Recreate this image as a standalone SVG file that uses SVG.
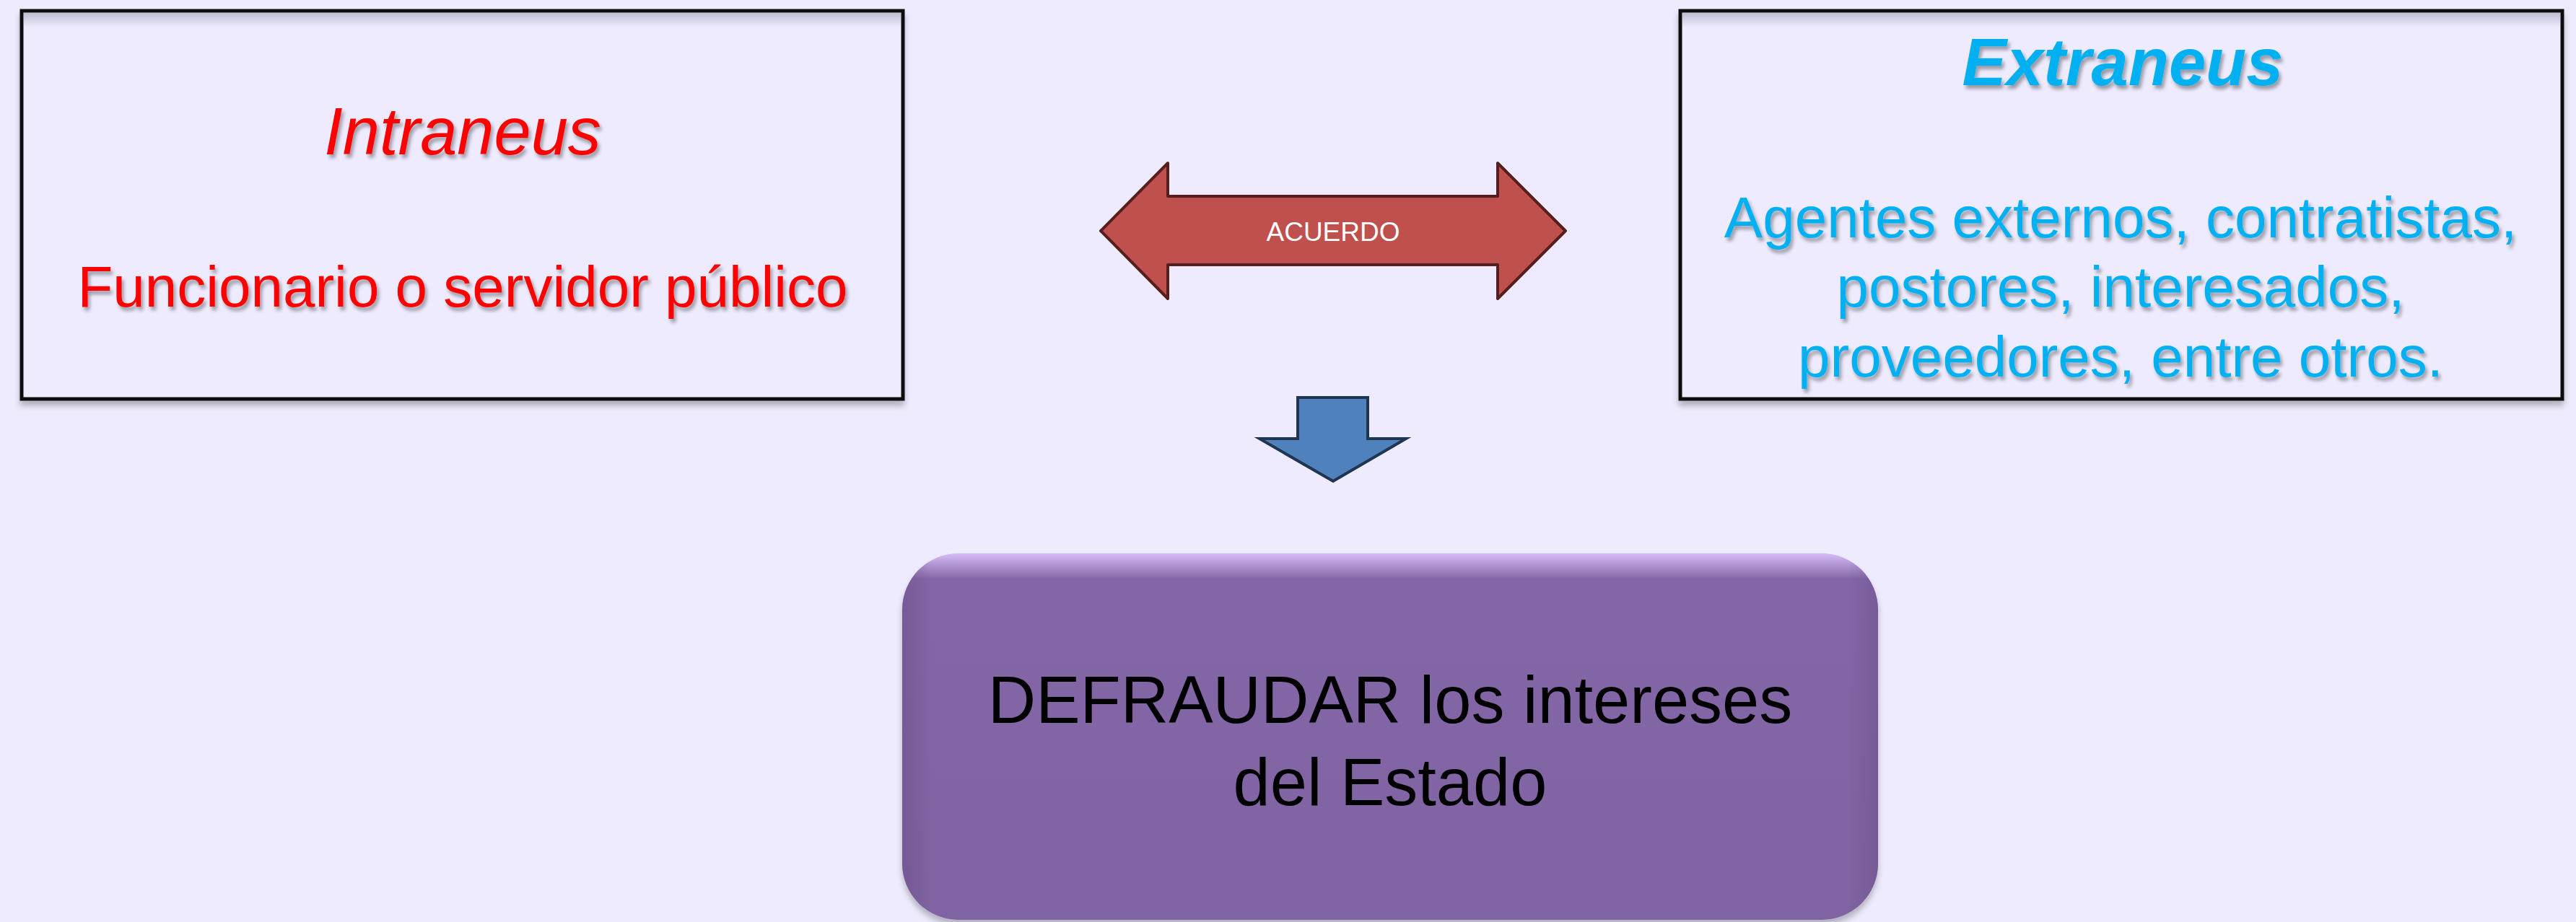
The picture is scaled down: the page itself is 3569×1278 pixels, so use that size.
<svg xmlns="http://www.w3.org/2000/svg" width="3569" height="1278" viewBox="0 0 3569 1278">
  <defs>
    <style>
      .box { fill: #EDEBFD; stroke: #111111; stroke-width: 5; }
      .t { font-family: "Liberation Sans", Arial, sans-serif; text-anchor: middle; }
      .red { fill: #FF0000; }
      .cyan { fill: #00B0F0; }
    </style>
    <filter id="tshadow" x="-10%" y="-30%" width="120%" height="160%">
      <feGaussianBlur in="SourceAlpha" stdDeviation="2.5" result="b"/>
      <feOffset in="b" dx="3" dy="5" result="o"/>
      <feComponentTransfer in="o" result="s"><feFuncA type="linear" slope="0.35"/></feComponentTransfer>
      <feMerge><feMergeNode in="s"/><feMergeNode in="SourceGraphic"/></feMerge>
    </filter>
    <filter id="bshadow" x="-5%" y="-5%" width="110%" height="115%">
      <feGaussianBlur in="SourceAlpha" stdDeviation="4" result="b"/>
      <feOffset in="b" dx="0" dy="7" result="o"/>
      <feComponentTransfer in="o" result="s"><feFuncA type="linear" slope="0.25"/></feComponentTransfer>
      <feMerge><feMergeNode in="s"/><feMergeNode in="SourceGraphic"/></feMerge>
    </filter>
    <linearGradient id="topshade" x1="0" y1="0" x2="0" y2="1">
      <stop offset="0" stop-color="#9a98b0" stop-opacity="0.55"/>
      <stop offset="1" stop-color="#9a98b0" stop-opacity="0"/>
    </linearGradient>
    <linearGradient id="purple" x1="0" y1="0" x2="0" y2="1">
      <stop offset="0" stop-color="#D6BCF8"/>
      <stop offset="0.07" stop-color="#8466A6"/>
      <stop offset="1" stop-color="#8064A2"/>
    </linearGradient>
    <linearGradient id="purpleSide" x1="0" y1="0" x2="1" y2="0">
      <stop offset="0" stop-color="#5a4378" stop-opacity="0.35"/>
      <stop offset="0.03" stop-color="#5a4378" stop-opacity="0"/>
      <stop offset="0.97" stop-color="#5a4378" stop-opacity="0"/>
      <stop offset="1" stop-color="#5a4378" stop-opacity="0.3"/>
    </linearGradient>
  </defs>

  <rect width="3569" height="1278" fill="#EDEBFD"/>

  <g id="connectors">
    <g id="acuerdo">
      <polygon points="1525,320 1618,226 1618,272 2075,272 2075,226 2169,320 2075,414 2075,367 1618,367 1618,414" fill="#C0504D" stroke="#561E1E" stroke-width="4" stroke-linejoin="round"/>
      <text class="t" x="1847" y="334" font-size="37" fill="#FFFFFF">ACUERDO</text>
    </g>
    <polygon id="down-arrow" points="1798,551 1895,551 1895,608 1948,608 1847,667 1745,608 1798,608" fill="#4F81BD" stroke="#1F3551" stroke-width="4" stroke-linejoin="miter"/>
  </g>

  <g id="intraneus" filter="url(#bshadow)">
    <rect class="box" x="30" y="15" width="1221" height="538"/>
    <rect x="33" y="18" width="1215" height="20" fill="url(#topshade)"/>
    <g filter="url(#tshadow)">
      <text class="t red" x="641" y="214" font-size="92" font-style="italic">Intraneus</text>
      <text class="t red" x="641" y="425" font-size="80">Funcionario o servidor público</text>
    </g>
  </g>

  <g id="extraneus" filter="url(#bshadow)">
    <rect class="box" x="2328" y="15" width="1222" height="538"/>
    <rect x="2331" y="18" width="1216" height="20" fill="url(#topshade)"/>
    <g filter="url(#tshadow)">
      <text class="t cyan" x="2941" y="118" font-size="92" font-style="italic" font-weight="bold">Extraneus</text>
      <text class="t cyan" x="2938" y="329" font-size="80">Agentes externos, contratistas,</text>
      <text class="t cyan" x="2938" y="425" font-size="80">postores, interesados,</text>
      <text class="t cyan" x="2938" y="522" font-size="80">proveedores, entre otros.</text>
    </g>
  </g>

  <g id="defraudar" filter="url(#bshadow)">
    <rect x="1250" y="767" width="1352" height="508" rx="78" ry="78" fill="url(#purple)"/>
    <rect x="1250" y="767" width="1352" height="508" rx="78" ry="78" fill="url(#purpleSide)"/>
    <text class="t" x="1926" y="1002" font-size="92" fill="#000000">DEFRAUDAR los intereses</text>
    <text class="t" x="1926" y="1116" font-size="92" fill="#000000">del Estado</text>
  </g>
</svg>
